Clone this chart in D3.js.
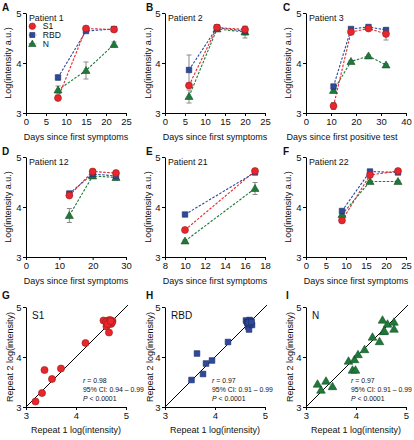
<!DOCTYPE html>
<html><head><meta charset="utf-8">
<script src="https://cdn.jsdelivr.net/npm/d3@7"></script>
<style>body{margin:0;background:#fff}svg{display:block;font-family:"Liberation Sans",Arial,sans-serif}</style>
</head><body><div id="c"></div>
<script>
// ---------- DATA ----------
const seriesNames = ["S1", "RBD", "N"];
const panelLetters = ["A","B","C","D","E","F","G","H","I"];
const patientLabels = ["Patient 1","Patient 2","Patient 3","Patient 12","Patient 21","Patient 22"];
const xTitles = ["Days since first symptoms","Days since first symptoms","Days since first positive test",
                 "Days since first symptoms","Days since first symptoms","Days since first symptoms"];
const yTitleTime = "Log(intensity a.u.)";
const yTitleRep = "Repeat 2 log(intensity)";
const xTitleRep = "Repeat 1 log(intensity)";

const p1Days = [8, 15, 22];
const p1S1 = [3.30, 4.69, 4.67], p1S1Err = [0.03, 0.03, 0.03];
const p1RBD = [3.71, 4.64, 4.68], p1RBDErr = [0.05, 0.03, 0.03];
const p1N = [3.46, 3.85, 4.37], p1NErr = [0.08, 0.17, 0.05];

const p2Days = [6, 13, 20];
const p2S1 = [3.55, 4.71, 4.67], p2S1Err = [0.04, 0.03, 0.05];
const p2RBD = [3.86, 4.71, 4.64], p2RBDErr = [0.30, 0.03, 0.08];
const p2N = [3.33, 4.68, 4.62], p2NErr = [0.13, 0.03, 0.12];

const p3Days = [11, 18, 25, 32];
const p3S1 = [3.14, 4.62, 4.69, 4.58], p3S1Err = [0.07, 0.03, 0.03, 0.12];
const p3RBD = [3.53, 4.68, 4.72, 4.66], p3RBDErr = [0.03, 0.03, 0.03, 0.03];
const p3N = [3.45, 4.03, 4.14, 3.96], p3NErr = [0.02, 0.02, 0.02, 0.02];

const p12Days = [13, 20, 27];
const p12S1 = [4.23, 4.71, 4.68], p12S1Err = [0.03, 0.03, 0.03];
const p12RBD = [4.27, 4.66, 4.62], p12RBDErr = [0.03, 0.03, 0.04];
const p12N = [3.83, 4.62, 4.59], p12NErr = [0.14, 0.03, 0.05];

const p21Days = [10, 17];
const p21S1 = [3.54, 4.72], p21S1Err = [0.02, 0.03];
const p21RBD = [3.85, 4.69], p21RBDErr = [0.02, 0.02];
const p21N = [3.32, 4.37], p21NErr = [0.02, 0.12];

const p22Days = [9, 16, 23];
const p22S1 = [3.73, 4.64, 4.72], p22S1Err = [0.02, 0.02, 0.02];
const p22RBD = [3.92, 4.71, 4.69], p22RBDErr = [0.02, 0.02, 0.02];
const p22N = [3.85, 4.51, 4.51], p22NErr = [0.02, 0.02, 0.02];

const xDomains = [[0,25],[0,25],[0,40],[0,30],[8,18],[0,25]];
const xTicks = [[0,5,10,15,20,25],[0,5,10,15,20,25],[0,10,20,30,40],[0,10,20,30],[8,10,12,14,16,18],[0,5,10,15,20,25]];
const yTicks = [3, 4, 5];
const repTicks = [3, 4, 5];

// Repeat correlation data
const s1Rep1 = [3.19,3.32,3.37,3.52,3.70,4.19,4.55,4.61,4.66,4.70,4.73,4.64,4.68,4.60,4.72,4.67,4.63,4.69];
const s1Rep2 = [3.11,3.28,3.74,3.56,3.77,4.28,4.73,4.61,4.49,4.66,4.72,4.73,4.74,4.70,4.69,4.70,4.66,4.72];
const rbdRep1 = [3.53,3.64,3.76,3.82,3.94,4.26,4.62,4.66,4.68,4.71,4.74,4.64,4.69,4.72,4.65,4.70,4.67,4.73];
const rbdRep2 = [3.54,4.07,3.66,3.87,3.93,4.30,4.73,4.61,4.55,4.71,4.64,4.70,4.74,4.72,4.68,4.66,4.69,4.70];
const nRep1 = [3.23,3.30,3.40,3.53,3.85,3.97,3.93,3.99,4.04,4.17,4.33,4.47,4.55,4.53,4.63,4.76,4.76,4.57];
const nRep2 = [3.46,3.34,3.52,3.41,3.92,3.95,3.74,3.74,4.05,4.15,4.40,4.31,4.51,4.74,4.66,4.70,4.56,4.52];
const statR = ["r = 0.98","r = 0.97","r = 0.97"];
const statCI = ["95% CI: 0.94 – 0.99","95% CI: 0.91 – 0.99","95% CI: 0.91 – 0.99"];
const statP = ["P < 0.0001","P < 0.0001","P < 0.0001"];

// ---------- STYLE / LAYOUT ----------
const colors = {S1:"#e8262b", RBD:"#2d4a9c", N:"#1f7a3a"};
const strokes = {S1:"#9a1c1c", RBD:"#1b2c66", N:"#124d24"};
const colX = [26, 165, 306];
const rowY = [13, 157, 307];
const yTitleX = [8, 148, 288];
const PW = 100, PH = 100;
const FONT = "Liberation Sans, Arial, sans-serif";

const svg = d3.select("#c").append("svg").attr("width",414).attr("height",440).attr("font-family",FONT);

function symbolPath(name, size){
  const t = name==="S1"?d3.symbolCircle:name==="RBD"?d3.symbolSquare:d3.symbolTriangle;
  return d3.symbol().type(t).size(size)();
}

function drawAxes(g, x, y, xt, yt){
  const ax = g.append("g").attr("transform",`translate(0,${PH})`)
    .call(d3.axisBottom(x).tickValues(xt).tickFormat(d3.format("d")).tickSize(3).tickSizeOuter(0).tickPadding(2));
  const ay = g.append("g").call(d3.axisLeft(y).tickValues(yt).tickFormat(d3.format("d")).tickSize(3).tickSizeOuter(0).tickPadding(1.5));
  [ax,ay].forEach(a=>{
    a.selectAll("path,line").attr("stroke","#000").attr("stroke-width",1);
    a.selectAll("text").attr("font-size",9.5).attr("fill","#111").attr("font-family",FONT);
  });
}

const timePanels = [
  {days:p1Days, S1:p1S1, RBD:p1RBD, N:p1N, S1e:p1S1Err, RBDe:p1RBDErr, Ne:p1NErr},
  {days:p2Days, S1:p2S1, RBD:p2RBD, N:p2N, S1e:p2S1Err, RBDe:p2RBDErr, Ne:p2NErr},
  {days:p3Days, S1:p3S1, RBD:p3RBD, N:p3N, S1e:p3S1Err, RBDe:p3RBDErr, Ne:p3NErr},
  {days:p12Days, S1:p12S1, RBD:p12RBD, N:p12N, S1e:p12S1Err, RBDe:p12RBDErr, Ne:p12NErr},
  {days:p21Days, S1:p21S1, RBD:p21RBD, N:p21N, S1e:p21S1Err, RBDe:p21RBDErr, Ne:p21NErr},
  {days:p22Days, S1:p22S1, RBD:p22RBD, N:p22N, S1e:p22S1Err, RBDe:p22RBDErr, Ne:p22NErr}
];
const markerSize = {S1:38, RBD:30, N:28};

timePanels.forEach((p,i)=>{
  const col = i%3, cx = colX[col], cy = rowY[Math.floor(i/3)];
  const g = svg.append("g").attr("transform",`translate(${cx},${cy})`);
  const x = d3.scaleLinear().domain(xDomains[i]).range([0,PW]);
  const y = d3.scaleLinear().domain([3,5]).range([PH,0]);
  drawAxes(g,x,y,xTicks[i],yTicks);
  const order = ["N","RBD","S1"];
  order.forEach(s=>{
    p.days.forEach((d,k)=>{
      const v=p[s][k], e=p[s+"e"][k];
      const eg=g.append("g").attr("stroke","#8a8a8a").attr("stroke-width",1);
      eg.append("line").attr("x1",x(d)).attr("x2",x(d)).attr("y1",y(v+e)).attr("y2",y(v-e));
      eg.append("line").attr("x1",x(d)-2.5).attr("x2",x(d)+2.5).attr("y1",y(v+e)).attr("y2",y(v+e));
      eg.append("line").attr("x1",x(d)-2.5).attr("x2",x(d)+2.5).attr("y1",y(v-e)).attr("y2",y(v-e));
    });
  });
  order.forEach(s=>{
    const line = d3.line().x((d,k)=>x(p.days[k])).y(d=>y(d));
    g.append("path").datum(p[s]).attr("d",line).attr("fill","none")
      .attr("stroke",colors[s]).attr("stroke-width",1.1).attr("stroke-dasharray","2.5,1.5");
  });
  order.forEach(s=>{
    g.selectAll(null).data(p[s]).enter().append("path")
      .attr("d",symbolPath(s,markerSize[s]))
      .attr("transform",(d,k)=>`translate(${x(p.days[k])},${y(d)+(s==="N"?0.6:0)})`)
      .attr("fill",colors[s]).attr("stroke",strokes[s]).attr("stroke-width",0.6);
  });
  g.append("text").attr("x",i===2?PW/2-14:PW/2).attr("y",PH+27).attr("text-anchor","middle")
    .attr("font-size",9).attr("fill","#111").text(xTitles[i]);
  g.append("text").attr("transform",`translate(${yTitleX[col]+3.3-cx},${PH/2}) rotate(-90)`).attr("text-anchor","middle")
    .attr("font-size",9).attr("fill","#111").text(yTitleTime);
  g.append("text").attr("x",3).attr("y",7.5).attr("font-size",8.8).attr("fill","#111").text(patientLabels[i]);
  if(i===0){
    seriesNames.forEach((s,k)=>{
      const lg = g.append("g").attr("transform",`translate(6.3,${13.2+k*8.8})`);
      lg.append("line").attr("x1",-3.5).attr("x2",4).attr("stroke",colors[s]).attr("stroke-width",1.1).attr("stroke-dasharray","2,1.5");
      lg.append("path").attr("d",symbolPath(s,markerSize[s]*0.85)).attr("fill",colors[s]).attr("stroke",strokes[s]).attr("stroke-width",0.6)
        .attr("transform",s==="N"?"translate(0,0.6)":null);
      lg.append("text").attr("x",10.5).attr("y",3.2).attr("font-size",8.6).attr("fill","#111").text(s);
    });
  }
});

// correlation panels
const corrPanels = [
  {name:"S1", r1:s1Rep1, r2:s1Rep2, textX:57},
  {name:"RBD", r1:rbdRep1, r2:rbdRep2, textX:47},
  {name:"N", r1:nRep1, r2:nRep2, textX:45}
];
const repSize = {S1:40, RBD:32, N:32};
corrPanels.forEach((p,i)=>{
  const cx = colX[i], cy = rowY[2];
  const g = svg.append("g").attr("transform",`translate(${cx},${cy})`);
  const x = d3.scaleLinear().domain([3,5]).range([0,PW]);
  const y = d3.scaleLinear().domain([3,5]).range([PH,0]);
  drawAxes(g,x,y,repTicks,repTicks);
  g.append("line").attr("x1",x(3)).attr("y1",y(3)).attr("x2",x(5.04)).attr("y2",y(5.04))
    .attr("stroke","#000").attr("stroke-width",1);
  g.selectAll(null).data(p.r1).enter().append("path")
    .attr("d",symbolPath(p.name,repSize[p.name]))
    .attr("transform",(d,k)=>`translate(${x(d)},${y(p.r2[k])+(p.name==="N"?0.7:0)})`)
    .attr("fill",colors[p.name]).attr("stroke",strokes[p.name]).attr("stroke-width",0.6);
  g.append("text").attr("x",6).attr("y",12).attr("font-size",10).attr("fill","#111").text(p.name);
  [statR[i], statCI[i], statP[i]].forEach((t,k)=>{
    const tt = g.append("text").attr("x",p.textX).attr("y",76+k*9).attr("font-size",6.9).attr("fill","#111");
    if(k===0){ tt.append("tspan").attr("font-style","italic").text("r"); tt.append("tspan").text(t.slice(1)); }
    else if(k===2){ tt.append("tspan").attr("font-style","italic").text("P"); tt.append("tspan").text(t.slice(1)); }
    else tt.text(t);
  });
  g.append("text").attr("x",PW/2).attr("y",PH+26).attr("text-anchor","middle")
    .attr("font-size",9).attr("fill","#111").text(xTitleRep);
  g.append("text").attr("transform",`translate(${yTitleX[i]+4.5-cx},${PH/2}) rotate(-90)`).attr("text-anchor","middle")
    .attr("font-size",9).attr("fill","#111").text(yTitleRep);
});

// panel letters
const letterPos = [[2,11],[146,11],[283,11],[2,155],[146,155],[283,155],[2,299],[146,299],[286,299]];
panelLetters.forEach((L,i)=>{
  svg.append("text").attr("x",letterPos[i][0]).attr("y",letterPos[i][1]).attr("font-size",10)
    .attr("font-weight","bold").attr("fill","#111").text(L);
});
</script></body></html>
